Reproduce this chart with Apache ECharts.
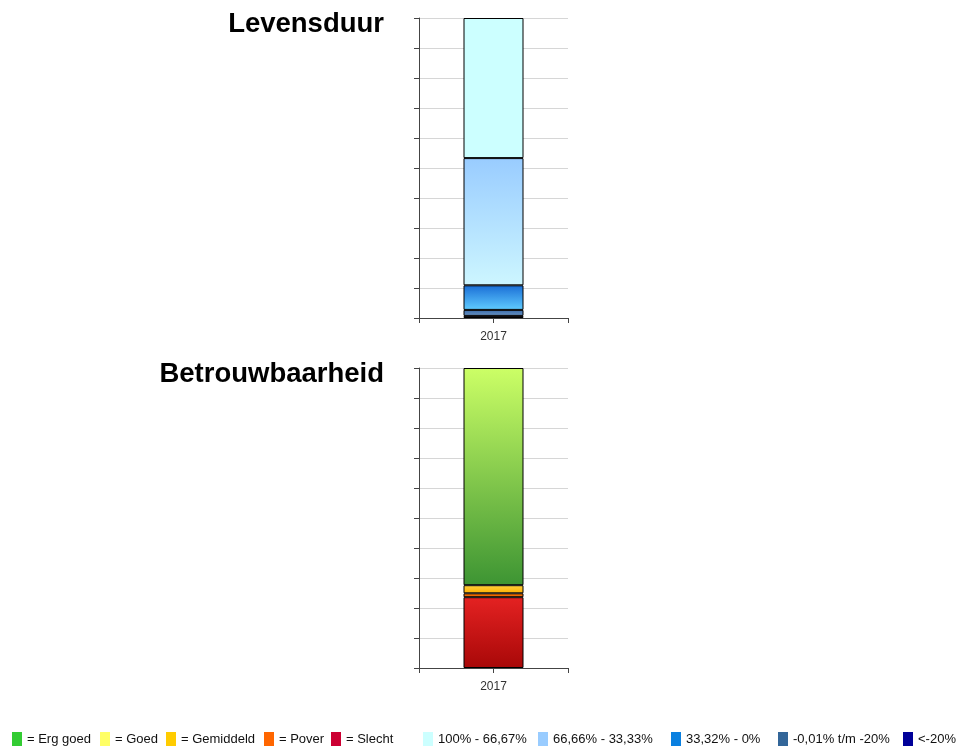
<!DOCTYPE html>
<html>
<head>
<meta charset="utf-8">
<script src="https://cdn.jsdelivr.net/npm/echarts@6/dist/echarts.min.js"></script>
<style>
html,body{margin:0;padding:0;background:#fff;}
#c{width:959px;height:746px;}
</style>
</head>
<body>
<div id="c"></div>
<script>
// ---- data ----
const categories = ['2017'];
const titles = ['Levensduur', 'Betrouwbaarheid'];
// Levensduur (stack bottom -> top), percentages
const levNames = ['<-20%', '-0,01% t/m -20%', '33,32% - 0%', '66,66% - 33,33%', '100% - 66,67%'];
const levValues = [0.7, 2.0, 8.2, 42.4, 46.7];
// Betrouwbaarheid (stack bottom -> top), percentages
const betNames = ['Slecht', 'Pover', 'Gemiddeld', 'Goed', 'Erg goed'];
const betValues = [23.6, 1.3, 2.7, 0, 72.4];
const yTicks = [0, 10, 20, 30, 40, 50, 60, 70, 80, 90, 100];

// ---- styles ----
const FONT = '"Liberation Sans", Arial, sans-serif';
const levFill = [
  ['#000066', '#000080'],
  ['#3a6aa8', '#6a94c4'],
  ['#1a6ed6', '#60ccff'],
  ['#99ccff', '#cdf6ff'],
  ['#ccffff', '#ccffff']
];
const betFill = [
  ['#e42222', '#a80808'],
  ['#ff7a00', '#e05a00'],
  ['#ffd040', '#ffb000'],
  ['#ffff66', '#ffff33'],
  ['#ccff66', '#3d9433']
];
const levLegendColors = ['#000099', '#336699', '#0a80e0', '#99ccff', '#ccffff'];
const betLegendColors = ['#cc0033', '#ff6600', '#ffcc00', '#ffff66', '#33cc33'];

function grad(c) {
  return new echarts.graphic.LinearGradient(0, 0, 0, 1, [{offset: 0, color: c[0]}, {offset: 1, color: c[1]}]);
}

const gridTops = [18, 368];
const grids = gridTops.map(t => ({left: 419, top: t, width: 149, height: 300, containLabel: false}));

const xAxes = [];
const yAxes = [];
gridTops.forEach((t, i) => {
  xAxes.push({
    type: 'category', gridIndex: i, data: categories,
    axisLine: {lineStyle: {color: '#444', width: 1}},
    axisTick: {show: true, alignWithLabel: true, length: 5, lineStyle: {color: '#444'}},
    axisLabel: {color: '#333', fontSize: 12, fontFamily: FONT, margin: 13}
  });
  xAxes.push({
    type: 'category', gridIndex: i, data: categories, position: 'bottom',
    axisLine: {show: false},
    axisTick: {show: true, length: 5, lineStyle: {color: '#444'}},
    axisLabel: {show: false}
  });
  yAxes.push({
    type: 'value', gridIndex: i, min: yTicks[0], max: yTicks[yTicks.length - 1], interval: yTicks[1] - yTicks[0],
    axisLine: {show: true, lineStyle: {color: '#444', width: 1}},
    axisTick: {show: true, length: 5, lineStyle: {color: '#444'}},
    axisLabel: {show: false},
    splitLine: {show: true, lineStyle: {color: '#d6d6d6', width: 1}}
  });
});

const series = [];
levNames.forEach((n, k) => {
  series.push({
    name: n, type: 'bar', stack: 'lev', xAxisIndex: 0, yAxisIndex: 0, barWidth: 60,
    data: [levValues[k]],
    itemStyle: {color: grad(levFill[k]), borderColor: '#000', borderWidth: 1},
    emphasis: {disabled: true}
  });
});
betNames.forEach((n, k) => {
  series.push({
    name: n, type: 'bar', stack: 'bet', xAxisIndex: 2, yAxisIndex: 1, barWidth: 60,
    data: [betValues[k]],
    itemStyle: {color: grad(betFill[k]), borderColor: '#000', borderWidth: betValues[k] > 0 ? 1 : 0},
    emphasis: {disabled: true}
  });
});

// legend: one component per item to match positions
const betLegendOrder = [4, 3, 2, 1, 0];
const betLegendLeft = [12, 100, 166, 264, 331];
const levLegendOrder = [4, 3, 2, 1, 0];
const levLegendLeft = [423, 538, 671, 778, 903];
const legends = [];
function mkLegend(name, color, left, prefix) {
  return {
    left: left, top: 732, padding: 0, itemGap: 0, itemWidth: 10, itemHeight: 14,
    selectedMode: false, icon: 'rect',
    data: [{name: name, icon: 'rect', itemStyle: {color: color, borderWidth: 0}}],
    formatter: prefix ? ('= ' + '{name}') : '{name}',
    textStyle: {color: '#111', fontSize: 13, fontFamily: FONT}
  };
}
betLegendOrder.forEach((k, j) => legends.push(mkLegend(betNames[k], betLegendColors[k], betLegendLeft[j], true)));
levLegendOrder.forEach((k, j) => legends.push(mkLegend(levNames[k], levLegendColors[k], levLegendLeft[j], false)));

const chart = echarts.init(document.getElementById('c'), null, {renderer: 'canvas'});
chart.setOption({
  animation: false,
  backgroundColor: '#fff',
  title: [
    {text: titles[0], right: 575, top: 10, padding: 0, textStyle: {fontSize: 27.5, fontWeight: 'bold', color: '#000', fontFamily: FONT}},
    {text: titles[1], right: 575, top: 360, padding: 0, textStyle: {fontSize: 27.5, fontWeight: 'bold', color: '#000', fontFamily: FONT}}
  ],
  grid: grids,
  xAxis: xAxes,
  yAxis: yAxes,
  legend: legends,
  series: series
});
</script>
</body>
</html>
